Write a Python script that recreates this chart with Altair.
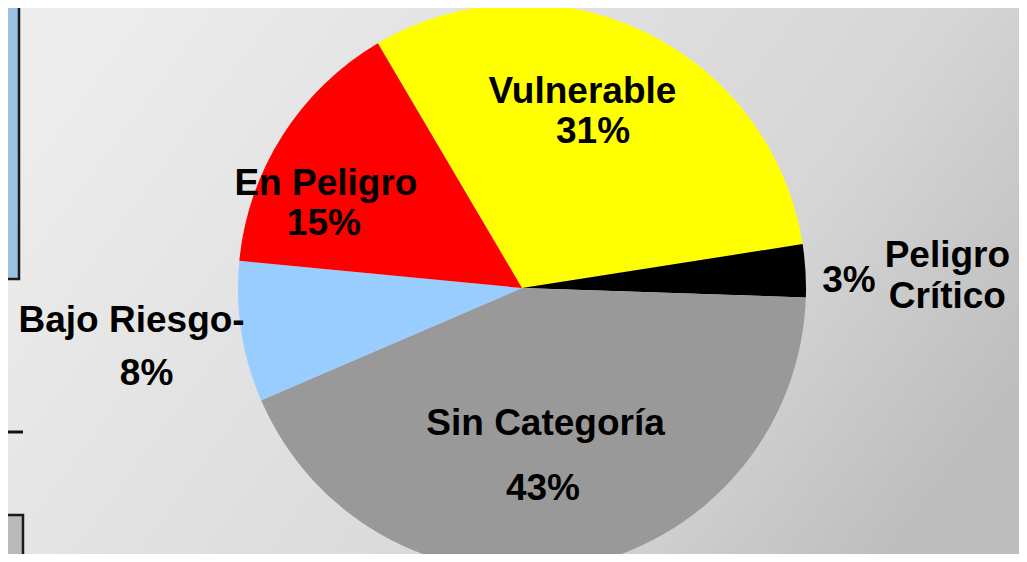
import math
import altair as alt
import pandas as pd

# ---- data ----
categories = ["Vulnerable", "Peligro Crítico", "Sin Categoría", "Bajo Riesgo", "En Peligro"]
values = [31, 3, 43, 8, 15]
name_labels = ["Vulnerable", "Peligro Crítico", "Sin Categoría", "Bajo Riesgo-", "En Peligro"]
pct_labels = [f"{v}%" for v in values]

palette = ["#FFFF00", "#000000", "#999999", "#99CCFF", "#FF0000"]

# cumulative positions (derived from values)
ends, acc = [], 0
for v in values:
    acc += v
    ends.append(acc)
starts = [e - v for e, v in zip(ends, values)]
mids = [(s + e) / 2 for s, e in zip(starts, ends)]

df = pd.DataFrame({
    "cat": categories, "value": values, "start": starts, "end": ends,
    "mid": mids, "name": name_labels, "pct": pct_labels,
})

W, H = 1011, 546
CX, CY = 514, 280
R = 284
start_angle = math.radians(329.5)
theta_scale = alt.Scale(domain=[0, 100], range=[start_angle, start_angle + 2 * math.pi])
color_scale = alt.Scale(domain=categories, range=palette)
FONT = "Liberation Sans"
FS = 37

one = pd.DataFrame({"k": [0]})

background = alt.Chart(one).mark_rect(
    color=alt.LinearGradient(
        gradient="linear",
        stops=[alt.GradientStop(color="#ececec", offset=0),
               alt.GradientStop(color="#d6d6d6", offset=0.7),
               alt.GradientStop(color="#bdbdbd", offset=1)],
        x1=0, x2=1, y1=0.3, y2=0.7,
    )
).encode(x=alt.value(0), x2=alt.value(W), y=alt.value(0), y2=alt.value(H))

blue_box = alt.Chart(one).mark_rect(fill="#9bc1e3", stroke="#1a1a1a", strokeWidth=2.5).encode(
    x=alt.value(-10), x2=alt.value(11), y=alt.value(-10), y2=alt.value(271))
dash_line = alt.Chart(one).mark_rule(color="#111111", strokeWidth=3).encode(
    x=alt.value(0), x2=alt.value(15), y=alt.value(424))
gray_box = alt.Chart(one).mark_rect(fill="#b9b9b9", stroke="#1a1a1a", strokeWidth=2.5).encode(
    x=alt.value(-10), x2=alt.value(15), y=alt.value(507), y2=alt.value(H + 10))

base = alt.Chart(df)

pie = base.mark_arc(outerRadius=R).encode(
    theta=alt.Theta("start:Q", scale=theta_scale, stack=None),
    theta2="end:Q",
    color=alt.Color("cat:N", scale=color_scale, legend=None),
    x=alt.value(CX), y=alt.value(CY),
)


def label(cat, field, radius, dx, dy, **kw):
    return base.transform_filter(alt.datum.cat == cat).mark_text(
        radius=radius, dx=dx, dy=dy, font=FONT, fontSize=FS, fontWeight="bold",
        color="#000000", align="center", baseline="alphabetic", **kw
    ).encode(
        theta=alt.Theta("mid:Q", scale=theta_scale, stack=None),
        x=alt.value(CX), y=alt.value(CY),
        text=f"{field}:N",
    )


labels = [
    label("Vulnerable", "name", 185, -18.6, -17.7),
    label("Vulnerable", "pct", 185, -8, 22.3),
    label("En Peligro", "name", 210, -19, 20),
    label("En Peligro", "pct", 210, -21, 60),
    label("Bajo Riesgo", "name", 380, -15, -15),
    label("Bajo Riesgo", "pct", 380, 0, 38),
    label("Sin Categoría", "name", 170, -8, -20),
    label("Sin Categoría", "pct", 170, -10.6, 45),
    label("Peligro Crítico", "pct", 340, -12.4, 24.7),
    label("Peligro Crítico", "name", 340, 86, -0.3, lineBreak=" ", lineHeight=41),
]

chart = alt.layer(background, blue_box, dash_line, gray_box, pie, *labels).properties(
    width=W, height=H, padding=0, autosize=alt.AutoSizeParams(type="none")
).configure_view(strokeWidth=0)

chart.save("out.html", embed_options={"renderer": "svg", "actions": False})
